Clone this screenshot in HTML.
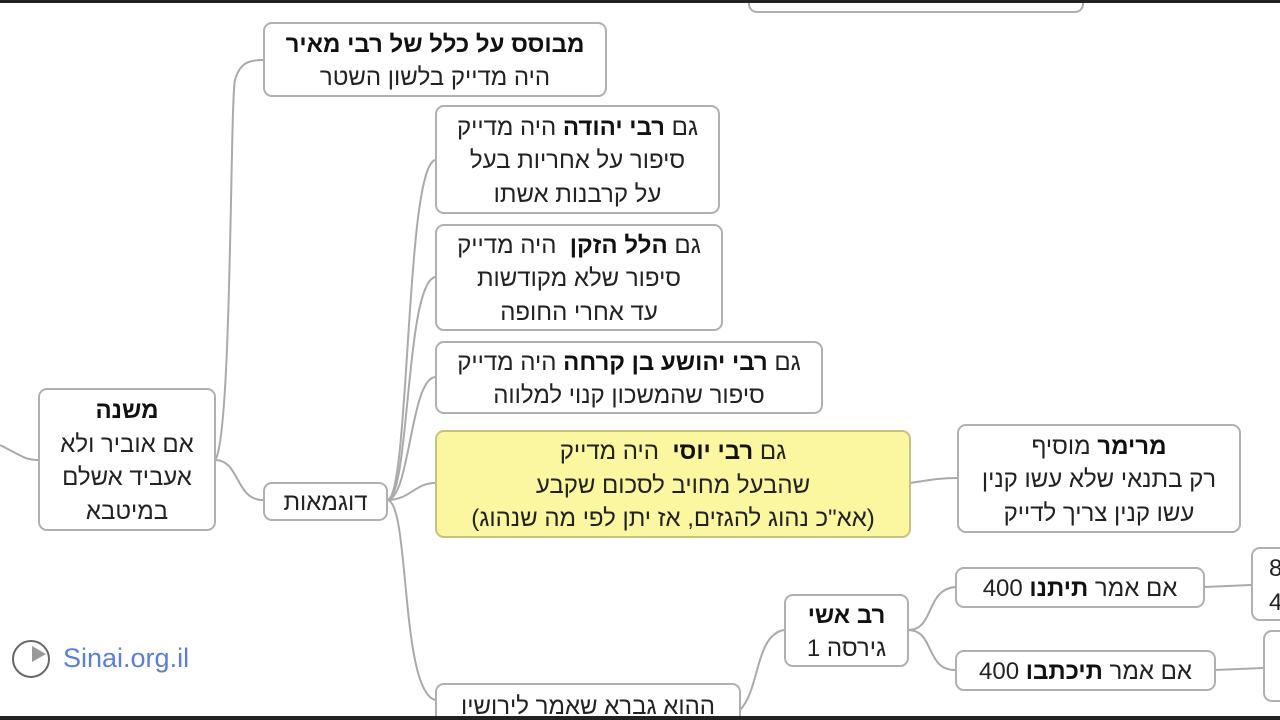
<!DOCTYPE html>
<html><head><meta charset="utf-8"><style>
html,body{margin:0;width:1280px;height:720px;overflow:hidden;}
body{background:#fff;position:relative;font-family:"Liberation Sans","Noto Sans CJK JP",sans-serif;}
.b{position:absolute;box-sizing:border-box;border:2px solid #b0b0b0;border-radius:9px;background:#fff;direction:rtl;text-align:center;font-size:24px;line-height:33.5px;color:#222;display:flex;flex-direction:column;justify-content:center;white-space:nowrap;padding-top:3px}
b{font-weight:bold;color:#111}
svg{position:absolute;left:0;top:0}
</style></head><body>
<svg width="1280" height="720" fill="none" stroke="#aaa" stroke-width="2">
<path d="M0 445 C20 455 25 460 38 460"/>
<path d="M215 460 C240 460 235 500 263 500"/>
<path d="M215 460 C232 440 230 100 235 80 C240 62 250 60 263 60"/>
<path d="M387 500 C410 500 405 170 435 160"/>
<path d="M387 500 C410 500 405 285 435 277"/>
<path d="M387 500 C410 500 410 380 435 377"/>
<path d="M387 500 C410 500 415 483 435 483"/>
<path d="M387 500 C410 500 400 690 435 700"/>
<path d="M910 483 C930 480 940 478 957 478"/>
<path d="M740 710 C760 690 755 635 784 630"/>
<path d="M908 630 C935 630 925 590 955 587"/>
<path d="M908 630 C935 630 925 670 955 670"/>
<path d="M1204 587 L1251 585"/>
<path d="M1215 670 L1263 668"/>
</svg>
<div class="b" style="left:748px;top:-20px;width:336px;height:33px"></div>
<div class="b" style="left:263px;top:22px;width:344px;height:75px"><div><b>מבוסס על כלל של רבי מאיר</b></div><div>היה מדייק בלשון השטר</div></div>
<div class="b" style="left:435px;top:105px;width:285px;height:109px"><div>גם <b>רבי יהודה</b> היה מדייק</div><div>סיפור על אחריות בעל</div><div>על קרבנות אשתו</div></div>
<div class="b" style="left:435px;top:224px;width:288px;height:107px"><div>גם <b>הלל הזקן</b>&nbsp; היה מדייק</div><div>סיפור שלא מקודשות</div><div>עד אחרי החופה</div></div>
<div class="b" style="left:435px;top:341px;width:388px;height:73px"><div>גם <b>רבי יהושע בן קרחה</b> היה מדייק</div><div>סיפור שהמשכון קנוי למלווה</div></div>
<div class="b" style="left:435px;top:430px;width:476px;height:108px;background:#fbf6a0;border-color:#c9c27e"><div>גם <b>רבי יוסי</b>&nbsp; היה מדייק</div><div>שהבעל מחויב לסכום שקבע</div><div>(אא"כ נהוג להגזים, אז יתן לפי מה שנהוג)</div></div>
<div class="b" style="left:957px;top:424px;width:284px;height:109px"><div><b>מרימר</b> מוסיף</div><div>רק בתנאי שלא עשו קנין</div><div>עשו קנין צריך לדייק</div></div>
<div class="b" style="left:38px;top:388px;width:178px;height:143px"><div><b>משנה</b></div><div>אם אוביר ולא</div><div>אעביד אשלם</div><div>במיטבא</div></div>
<div class="b" style="left:263px;top:482px;width:125px;height:39px">דוגמאות</div>
<div class="b" style="left:784px;top:594px;width:125px;height:73px"><div><b>רב אשי</b></div><div>גירסה 1</div></div>
<div class="b" style="left:955px;top:567px;width:250px;height:41px"><div>אם אמר <b>תיתנו</b> 400</div></div>
<div class="b" style="left:955px;top:650px;width:261px;height:41px"><div>אם אמר <b>תיכתבו</b> 400</div></div>
<div class="b" style="left:1251px;top:547px;width:60px;height:74px;text-align:left;direction:ltr;padding-left:16px"><div>8</div><div>4</div></div>
<div class="b" style="left:1263px;top:630px;width:60px;height:72px"></div>
<div class="b" style="left:435px;top:683px;width:306px;height:60px;justify-content:flex-start;padding-top:5px"><div>ההוא גברא שאמר לירושיו</div></div>
<div style="position:absolute;left:12px;top:640px;width:34px;height:34px;border:2px solid #666;border-radius:50%"></div>
<div style="position:absolute;left:32px;top:646px;width:0;height:0;border-left:14px solid #999;border-top:8px solid transparent;border-bottom:8px solid transparent"></div>
<div style="position:absolute;left:63px;top:643px;font-size:27px;color:#5b7fd6">Sinai.org.il</div>
<div style="position:absolute;left:0;top:0;width:1280px;height:3px;background:#222"></div>
<div style="position:absolute;left:0;top:716px;width:1280px;height:40px;background:#222"></div>
</body></html>
